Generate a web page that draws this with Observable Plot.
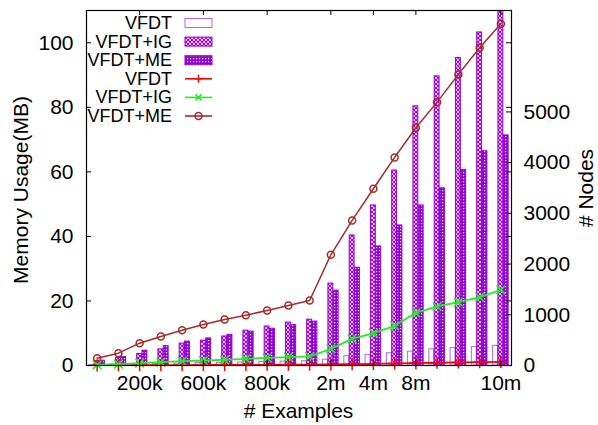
<!DOCTYPE html>
<html><head><meta charset="utf-8">
<script src="https://cdn.jsdelivr.net/npm/d3@7"></script>
<script src="https://cdn.jsdelivr.net/npm/@observablehq/plot@0.6"></script>
<style>
body{margin:0;background:#fff}
svg{font-family:"Liberation Sans",Arial,Helvetica,sans-serif}
</style>
</head><body><div id="chart"></div>
<script>
// ---- data ----
const groups = [0,1,2,3,4,5,6,7,8,9,10,11,12,13,14,15,16,17,18,19];
const tickIndex = [2,5,8,11,13,15,19];
const tickText = ["200k","600k","800k","2m","4m","8m","10m"];
const memTicks = [0,20,40,60,80,100];
const nodeTicks = [0,1000,2000,3000,4000,5000];

// memory usage (MB) - bars, left axis
const memVFDT = [0.2,0.3,0.4,0.5,0.6,0.8,0.8,0.9,1.1,1.2,1.3,1.8,2.9,3.3,3.8,4.3,5.0,5.4,5.7,6.1];
const memIG   = [1.4,2.3,3.6,5.0,6.8,7.7,9.0,10.8,12.1,13.3,14.2,25.4,40.3,49.6,60.4,80.3,89.6,95.3,103.2,113];
const memME   = [1.5,2.6,4.6,6.0,7.4,8.4,9.5,10.5,11.4,12.5,13.6,23.2,30.3,36.9,43.4,49.6,54.9,60.6,66.4,71.3];

// number of nodes - lines, right axis
const nodesVFDT = [3,5,6,8,9,10,11,12,14,15,16,20,27,33,40,47,54,60,66,73];
const nodesIG   = [14,26,45,65,85,99,112,132,152,164,178,329,526,637,783,1039,1164,1249,1348,1493];
const nodesME   = [144,243,440,572,696,809,907,992,1085,1183,1282,2183,2860,3485,4103,4688,5193,5740,6266,6740];

const seriesNames = ["VFDT","VFDT+IG","VFDT+ME"];

// ---- layout / style ----
const W = 598, H = 425;
const mL = 86, mR = 87, mT = 10, mB = 60;
const plotW = W - mL - mR, plotH = H - mT - mB;
const yMax = 110, nodeMax = 7000, k = yMax / nodeMax;
const barStep = 0.25, barHalf = 0.115, tickLen = 5;
const purple = "#9400d3";

const barRows = (vals, s) => groups.map((g, j) => ({g, s, v: vals[j]}));
const lineRows = (vals) => groups.map((g, j) => ({g, n: vals[j]}));

const bx1 = d => d.g + (d.s - 1) * barStep - barHalf;
const bx2 = d => d.g + (d.s - 1) * barStep + barHalf;

const svg = Plot.plot({
  width: W, height: H,
  marginLeft: mL, marginRight: mR, marginTop: mT, marginBottom: mB,
  style: {fontFamily: '"Liberation Sans",Arial,sans-serif', fontSize: "21px", background: "white", color: "black"},
  x: {type: "linear", domain: [-0.5, 19.5], axis: null},
  y: {domain: [0, yMax], axis: null},
  marks: [
    Plot.rect(barRows(memVFDT, 0), {x1: bx1, x2: bx2, y1: () => 0, y2: "v", fill: "white", stroke: "#b066ec", strokeWidth: 1, clip: true}),
    Plot.rect(barRows(memIG, 1), {x1: bx1, x2: bx2, y1: () => 0, y2: "v", fill: "url(#patIG)", stroke: purple, strokeWidth: 1, clip: true}),
    Plot.rect(barRows(memME, 2), {x1: bx1, x2: bx2, y1: () => 0, y2: "v", fill: "url(#patME)", stroke: purple, strokeWidth: 1, clip: true}),

    Plot.line(lineRows(nodesVFDT), {x: "g", y: d => d.n * k, stroke: "#ff0000", strokeWidth: 1.8, clip: true}),
    Plot.dot(lineRows(nodesVFDT), {x: "g", y: d => d.n * k, symbol: "plus", r: 4, stroke: "#ff0000", strokeWidth: 1.5}),
    Plot.line(lineRows(nodesIG), {x: "g", y: d => d.n * k, stroke: "#22ee22", strokeWidth: 1.8}),
    Plot.dot(lineRows(nodesIG), {x: "g", y: d => d.n * k, symbol: "times", r: 4, stroke: "#22ee22", strokeWidth: 1.5}),
    Plot.line(lineRows(nodesME), {x: "g", y: d => d.n * k, stroke: "#a52a2a", strokeWidth: 1.5}),
    Plot.dot(lineRows(nodesME), {x: "g", y: d => d.n * k, symbol: "circle", r: 3.5, fill: "none", stroke: "#a52a2a", strokeWidth: 1.5}),

    Plot.frame({stroke: "black", strokeWidth: 1.2}),
    // inward ticks
    Plot.ruleY(memTicks, {y: d => d, insetRight: plotW - tickLen, stroke: "black"}),
    Plot.ruleY(memTicks, {y: d => d, insetLeft: plotW - tickLen, stroke: "black"}),
    Plot.ruleY(nodeTicks, {y: d => d * k, insetLeft: plotW - tickLen, stroke: "black"}),
    Plot.ruleX(tickIndex, {x: d => d, insetTop: plotH - tickLen, stroke: "black"}),
    Plot.ruleX(tickIndex, {x: d => d, insetBottom: plotH - tickLen, stroke: "black"}),
    // tick labels
    Plot.axisY({ticks: memTicks, tickSize: 0, tickPadding: 13, label: null, fontSize: 21}),
    Plot.axisY({anchor: "right", ticks: nodeTicks.map(n => n * k), tickFormat: d => String(Math.round(d / k)), tickSize: 0, tickPadding: 12, label: null, fontSize: 21}),
    Plot.axisX({ticks: tickIndex, tickFormat: d => tickText[tickIndex.indexOf(d)], tickSize: 0, tickPadding: 10, label: null, fontSize: 21})
  ]
});

// patterns
const S = d3.select(svg);
const defs = S.insert("defs", ":first-child");
const pIG = defs.append("pattern").attr("id", "patIG").attr("patternUnits", "userSpaceOnUse").attr("width", 4).attr("height", 4);
pIG.append("rect").attr("width", 4).attr("height", 4).attr("fill", "white");
pIG.append("path").attr("d", "M0,0L4,4M4,0L0,4M-1,3L1,5M3,-1L5,1M-1,1L1,-1M3,5L5,3").attr("stroke", purple).attr("stroke-width", 1.1).attr("fill", "none");
const pME = defs.append("pattern").attr("id", "patME").attr("patternUnits", "userSpaceOnUse").attr("width", 3).attr("height", 3);
pME.append("rect").attr("width", 3).attr("height", 3).attr("fill", purple);
pME.append("rect").attr("x", 1).attr("y", 1).attr("width", 1.2).attr("height", 1.2).attr("fill", "white");

// axis titles
S.append("text").attr("transform", "translate(20,190) rotate(-90)").attr("text-anchor", "middle").attr("dominant-baseline", "central").attr("font-size", 21).text("Memory Usage(MB)");
S.append("text").attr("transform", "translate(585,188) rotate(-90)").attr("text-anchor", "middle").attr("dominant-baseline", "central").attr("font-size", 21).text("# Nodes");
S.append("text").attr("x", mL + plotW / 2).attr("y", 410).attr("text-anchor", "middle").attr("dominant-baseline", "central").attr("font-size", 21).text("# Examples");

// legend
const legendItems = [
  {label: seriesNames[0], type: "box", fill: "white", stroke: "#b066ec"},
  {label: seriesNames[1], type: "box", fill: "url(#patIG)", stroke: purple},
  {label: seriesNames[2], type: "box", fill: "url(#patME)", stroke: purple},
  {label: seriesNames[0], type: "line", stroke: "#ff0000", sym: "plus"},
  {label: seriesNames[1], type: "line", stroke: "#22ee22", sym: "times"},
  {label: seriesNames[2], type: "line", stroke: "#a52a2a", sym: "circle"}
];
const lg = S.append("g").attr("font-size", 18);
legendItems.forEach((it, i) => {
  const yy = 23 + i * 18.6;
  lg.append("text").attr("x", 172).attr("y", yy).attr("text-anchor", "end").attr("dominant-baseline", "central").text(it.label);
  if (it.type === "box") {
    lg.append("rect").attr("x", 185).attr("y", yy - 4.5).attr("width", 27).attr("height", 9).attr("fill", it.fill).attr("stroke", it.stroke);
  } else {
    lg.append("line").attr("x1", 185).attr("x2", 212).attr("y1", yy).attr("y2", yy).attr("stroke", it.stroke).attr("stroke-width", 1.6);
    const cx = 198.5;
    if (it.sym === "plus") lg.append("path").attr("d", `M${cx-4},${yy}h8M${cx},${yy-4}v8`).attr("stroke", it.stroke).attr("stroke-width", 1.5);
    if (it.sym === "times") lg.append("path").attr("d", `M${cx-3},${yy-3}l6,6M${cx-3},${yy+3}l6,-6`).attr("stroke", it.stroke).attr("stroke-width", 1.5);
    if (it.sym === "circle") lg.append("circle").attr("cx", cx).attr("cy", yy).attr("r", 3.5).attr("fill", "none").attr("stroke", it.stroke).attr("stroke-width", 1.5);
  }
});

document.getElementById("chart").appendChild(svg);
</script>
</body></html>
